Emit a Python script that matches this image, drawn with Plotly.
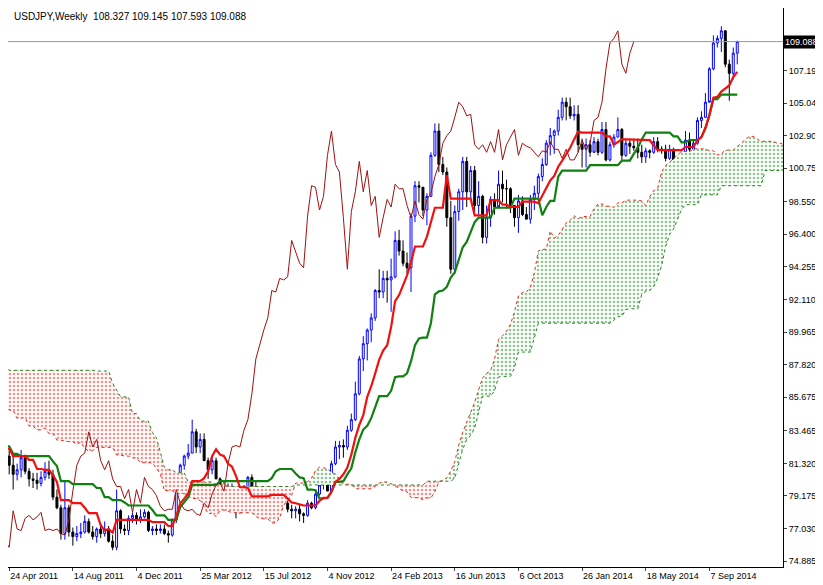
import plotly.graph_objects as go

# weekly closes Jan 2010 - Apr 2011 (history needed for the Ichimoku lines)
pre_close = [92.6, 91.1, 90.4, 89.8, 89.3, 89.9, 91.6, 89.2, 90.4, 90.5, 90.5, 92.6, 94.3,
             93.2, 92.1, 93.3, 94.2, 91.5, 92.6, 90.1, 91.6, 91.8, 89.5, 89.6, 88.4, 88.6,
             88.6, 86.6, 87.1, 85.5, 85.8, 84.9, 84.2, 84.0, 84.3, 85.5, 84.1, 83.0, 81.9,
             81.3, 81.7, 81.4, 80.6, 81.4, 83.2, 84.3, 83.9, 82.8, 83.9, 83.7, 83.8, 81.1,
             82.9, 83.0, 82.6, 82.1, 82.1, 83.1, 83.0, 81.7, 82.0, 81.1, 80.6, 82.0, 84.0,
             82.9, 83.5, 81.8]

close_2011 = [81.2, 80.6, 80.9, 81.7, 80.8, 80.3, 80.2, 80.0, 80.4, 80.8, 80.6, 79.1, 78.4,
              76.7, 78.4, 76.8, 76.5, 76.7, 76.8, 77.5, 76.8, 76.5, 77.0, 76.7, 77.0, 76.2,
              75.8, 78.2, 77.0, 76.9, 77.7, 77.9, 77.6, 77.8, 78.1, 76.9]
high_2011 = [82.3, 81.8, 81.3, 82.2, 81.9, 81.0, 80.7, 80.7, 80.8, 81.4, 81.5, 80.9, 79.6,
             78.6, 80.2, 78.6, 77.1, 77.2, 77.4, 77.9, 77.7, 77.2, 77.1, 77.3, 77.5, 77.2,
             76.6, 79.6, 78.3, 77.3, 77.9, 78.1, 78.1, 78.3, 78.3, 78.2]
low_2011 = [80.6, 79.6, 80.2, 80.4, 80.6, 79.8, 79.7, 79.6, 79.8, 80.2, 80.3, 78.9, 78.3,
            76.3, 76.3, 76.5, 75.9, 76.2, 76.4, 76.7, 76.7, 76.3, 76.1, 76.4, 76.5, 76.1,
            75.6, 75.6, 76.7, 76.6, 76.6, 77.4, 77.3, 77.4, 77.7, 76.8]

close_2012 = [77.0, 76.9, 77.0, 76.7, 76.6, 77.6, 79.5, 81.2, 81.8, 82.0, 83.4, 82.4, 82.9,
              81.5, 80.9, 81.5, 80.3, 79.8, 79.8, 79.0, 79.6, 78.1, 79.6, 78.7, 80.4, 79.8,
              79.6, 79.2, 78.5, 78.2, 78.3, 78.3, 79.6, 78.7, 78.3, 78.2, 78.3, 78.0, 77.9,
              78.7, 78.4, 79.3, 79.9, 80.0, 79.5, 81.3, 82.4, 82.5, 82.4, 83.5, 84.2, 85.9]
high_2012 = [77.2, 77.3, 77.3, 77.3, 76.9, 77.7, 79.6, 81.3, 81.9, 82.6, 84.2, 83.6, 83.3,
             83.3, 81.7, 81.8, 81.7, 80.4, 80.2, 80.0, 80.0, 79.8, 79.8, 79.9, 80.5, 80.6,
             80.1, 79.8, 79.3, 78.6, 78.8, 78.8, 79.6, 79.7, 79.0, 78.6, 78.5, 78.6, 78.1,
             78.9, 78.8, 79.4, 80.3, 80.7, 80.3, 81.5, 82.8, 82.8, 82.9, 83.8, 84.6, 86.7]
low_2012 = [76.6, 76.6, 76.7, 76.6, 76.1, 76.5, 77.4, 79.4, 80.9, 81.6, 82.0, 82.0, 82.0,
            81.5, 80.3, 80.6, 80.3, 79.6, 79.4, 79.0, 78.9, 77.7, 78.0, 78.6, 78.8, 79.3,
            79.4, 79.1, 78.4, 77.9, 77.9, 78.0, 78.2, 78.6, 78.1, 77.7, 77.7, 77.5, 77.4,
            77.8, 78.3, 78.3, 79.2, 79.6, 79.5, 79.3, 81.2, 81.6, 81.7, 82.2, 83.4, 84.1]

close_2013 = [88.2, 89.2, 90.1, 90.9, 92.7, 92.6, 93.5, 93.4, 93.6, 96.0, 95.3, 94.5, 94.2,
              97.6, 99.6, 99.5, 98.0, 98.9, 101.6, 103.2, 101.0, 100.5, 97.5, 94.1, 97.9,
              99.2, 101.2, 99.2, 100.6, 98.3, 98.9, 96.2, 97.5, 98.7, 98.2, 99.7, 99.4, 99.4,
              98.3, 97.5, 98.6, 97.7, 97.4, 98.7, 99.1, 100.2, 101.0, 102.4, 102.9, 103.2,
              104.1, 105.1]
high_2013 = [88.4, 89.7, 90.2, 91.2, 92.8, 94.1, 94.0, 94.0, 94.8, 96.6, 96.7, 96.0, 95.2,
             97.8, 99.9, 99.9, 99.2, 99.1, 101.8, 103.7, 103.7, 101.5, 100.8, 98.6, 98.3,
             99.4, 101.5, 101.5, 100.9, 100.9, 99.9, 99.0, 98.3, 98.9, 99.1, 100.6, 100.6,
             100.0, 99.5, 98.1, 99.0, 98.9, 98.2, 99.0, 99.6, 100.4, 101.4, 102.6, 103.4,
             103.3, 104.6, 105.4]
low_2013 = [85.8, 87.4, 88.1, 89.3, 90.7, 92.2, 92.2, 91.9, 91.3, 93.5, 95.0, 94.3, 93.8,
            92.6, 97.2, 98.5, 97.6, 97.0, 98.9, 101.5, 100.5, 100.3, 96.9, 93.8, 93.8, 97.3,
            98.0, 98.2, 98.6, 97.9, 97.7, 95.8, 95.8, 96.9, 97.7, 98.3, 98.5, 98.1, 97.8,
            96.9, 96.5, 97.6, 97.4, 97.1, 98.0, 98.8, 99.9, 100.9, 101.6, 101.7, 102.9, 103.9]

close_2014 = [104.8, 104.2, 104.3, 102.3, 102.0, 102.3, 101.8, 102.5, 101.8, 103.3, 101.3,
              102.3, 102.8, 103.3, 101.6, 102.4, 102.2, 102.1, 101.8, 101.5, 101.9, 101.8,
              102.5, 102.0, 102.0, 101.4, 102.0, 101.3, 101.3, 101.8, 102.6, 102.0, 102.4,
              103.9, 104.1, 105.1, 107.3, 109.0, 109.3, 109.8, 107.6, 107.0, 108.327, 109.088]
high_2014 = [105.4, 105.4, 104.9, 104.9, 102.7, 102.7, 102.6, 102.8, 102.7, 103.8, 103.8,
             102.5, 103.0, 104.1, 103.4, 102.7, 102.7, 102.7, 102.7, 102.3, 102.1, 102.0,
             102.8, 102.8, 102.2, 102.3, 102.3, 102.1, 101.6, 102.0, 103.2, 103.1, 102.6,
             104.1, 104.5, 105.7, 107.4, 109.5, 109.5, 110.1, 109.3, 107.9, 108.7, 109.145]
low_2014 = [103.9, 104.0, 103.9, 101.8, 100.8, 100.8, 101.5, 101.9, 101.6, 101.7, 101.2,
            101.2, 102.1, 102.8, 101.3, 101.5, 101.7, 101.9, 101.4, 101.1, 101.1, 101.4,
            101.7, 101.8, 101.7, 101.2, 101.3, 101.1, 101.1, 101.3, 101.4, 101.5, 101.9,
            102.3, 103.4, 104.1, 105.2, 107.2, 108.7, 108.4, 107.4, 105.2, 106.6, 107.593]

tick_labels = ["24 Apr 2011", "14 Aug 2011", "4 Dec 2011", "25 Mar 2012", "15 Jul 2012",
               "4 Nov 2012", "24 Feb 2013", "16 Jun 2013", "6 Oct 2013", "26 Jan 2014",
               "18 May 2014", "7 Sep 2014"]
price_ticks = [111.485, 107.190, 105.045, 102.900, 100.755, 98.550, 96.400, 94.255, 92.110,
               89.965, 87.820, 85.675, 83.465, 81.320, 79.175, 77.030, 74.885]

closes = close_2011 + close_2012 + close_2013 + close_2014
highs = high_2011 + high_2012 + high_2013 + high_2014
lows = low_2011 + low_2012 + low_2013 + low_2014
opens = [pre_close[-1]] + closes[:-1]

# full series incl. history, x index 0 = week of 24 Apr 2011
npre = len(pre_close)
all_c = pre_close + closes
all_h = pre_close + highs
all_l = pre_close + lows
all_x = list(range(-npre, len(closes)))


def mid(i, n):
    lo = max(0, i - n + 1)
    return (max(all_h[lo:i + 1]) + min(all_l[lo:i + 1])) / 2


tenkan = [mid(i, 9) for i in range(len(all_c))]
kijun = [mid(i, 26) for i in range(len(all_c))]
span_a = [(t + k) / 2 for t, k in zip(tenkan, kijun)]
span_b = [mid(i, 52) for i in range(len(all_c))]
cloud_x = [x + 26 for x in all_x]

fig = go.Figure()

# cloud: split into green / red segments
segs = []
cur = None
for x, a, b in zip(cloud_x, span_a, span_b):
    if x < -2:
        continue
    up = a >= b
    if cur is None or cur[0] != up:
        if cur is not None:
            cur[1].append((x, a, b))
        cur = (up, [])
        segs.append(cur)
    cur[1].append((x, a, b))
for up, pts in segs:
    col = "#1E8A1E" if up else "#E8261A"
    xs = [p[0] for p in pts] + [p[0] for p in pts[::-1]]
    ys = [p[1] for p in pts] + [p[2] for p in pts[::-1]]
    fig.add_trace(go.Scatter(
        x=xs, y=ys, fill="toself", mode="none", fillcolor="rgba(0,0,0,0)",
        fillpattern={"shape": ".", "fgcolor": col, "bgcolor": "white", "size": 4, "solidity": 0.35},
        hoverinfo="skip"))

fig.add_trace(go.Scatter(x=cloud_x, y=span_a, mode="lines",
                         line={"color": "#E8261A", "width": 1, "dash": "dot"}))
fig.add_trace(go.Scatter(x=cloud_x, y=span_b, mode="lines",
                         line={"color": "#1E8A1E", "width": 1, "dash": "dot"}))

# chikou span
fig.add_trace(go.Scatter(x=[x - 26 for x in all_x], y=all_c, mode="lines",
                         line={"color": "#A01010", "width": 1}))

fig.add_trace(go.Candlestick(
    x=list(range(len(closes))), open=opens, high=highs, low=lows, close=closes,
    increasing={"line": {"color": "#0000FF", "width": 1}, "fillcolor": "white"},
    decreasing={"line": {"color": "black", "width": 1}, "fillcolor": "black"},
    whiskerwidth=0))

fig.add_trace(go.Scatter(x=all_x, y=kijun, mode="lines",
                         line={"color": "#108010", "width": 2.2}))
fig.add_trace(go.Scatter(x=all_x, y=tenkan, mode="lines",
                         line={"color": "#F01010", "width": 2.2}))

fig.add_hline(y=closes[-1], line={"color": "#8A9AA8", "width": 1})
fig.add_annotation(x=1, xref="paper", xanchor="left", y=closes[-1], yref="y",
                   text=f"{closes[-1]:.3f}", showarrow=False, bgcolor="black",
                   font={"color": "white", "size": 9}, borderpad=1)
fig.add_annotation(x=0, xref="paper", y=1, yref="paper", xanchor="left", yanchor="top",
                   text="USDJPY,Weekly  108.327 109.145 107.593 109.088", showarrow=False,
                   font={"size": 10, "color": "black"}, xshift=4, yshift=-1)

fig.update_layout(
    width=815, height=577,
    margin={"l": 0, "r": 40, "t": 0, "b": 18},
    plot_bgcolor="white", paper_bgcolor="white",
    showlegend=False,
    font={"family": "Liberation Sans, Arial", "size": 9, "color": "black"},
    xaxis={"range": [-0.3, 194.5], "tickvals": [16 * i for i in range(len(tick_labels))],
           "ticktext": tick_labels, "ticklabelposition": "outside right",
           "showgrid": False, "zeroline": False,
           "rangeslider": {"visible": False}, "showline": True, "linecolor": "black",
           "mirror": True, "ticks": "outside", "ticklen": 3},
    yaxis={"side": "right", "range": [74.5, 111.3], "tickvals": price_ticks,
           "tickformat": ".3f", "showgrid": False, "zeroline": False, "showline": True,
           "linecolor": "black", "mirror": True, "ticks": "outside", "ticklen": 3},
)

fig.write_html("out.html")
